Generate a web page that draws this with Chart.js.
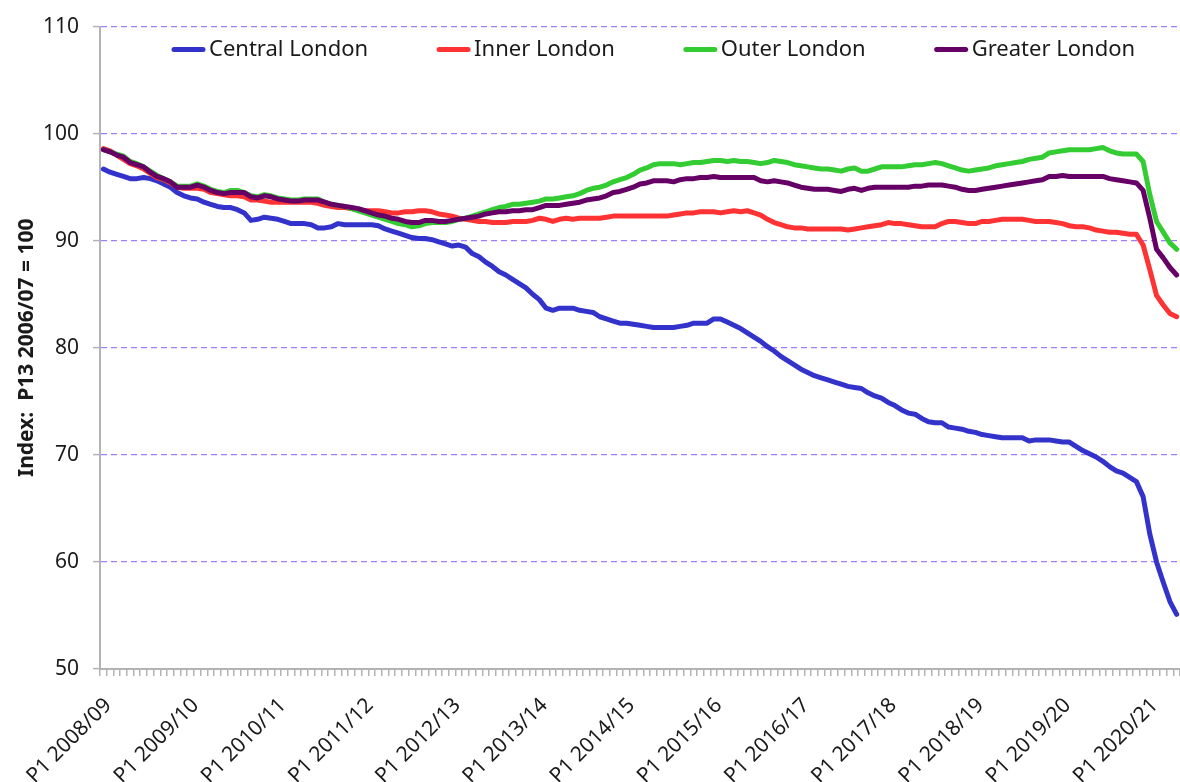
<!DOCTYPE html>
<html>
<head>
<meta charset="utf-8">
<title>London index</title>
<script src="https://cdn.jsdelivr.net/npm/chart.js@4.4.0/dist/chart.umd.min.js"></script>
<style>
  html, body { margin: 0; padding: 0; background: #fff; overflow: hidden; }
  #wrap { width: 1180px; height: 782px; position: relative; }
</style>
</head>
<body>
<div id="wrap"><canvas id="london-chart"></canvas></div>
<script>
// 13 four-week periods per financial year, P1 2008/09 .. P5 2020/21
const years = ["2008/09", "2009/10", "2010/11", "2011/12", "2012/13", "2013/14", "2014/15",
  "2015/16", "2016/17", "2017/18", "2018/19", "2019/20", "2020/21"]
const periodsPerYear = 13
const lastPeriods = 5

const categories = []
years.forEach((yr, yi) => {
  const n = yi === years.length - 1 ? lastPeriods : periodsPerYear
  for (let p = 1; p <= n; p++) categories.push(`P${p} ${yr}`)
})

const yTicks = [50, 60, 70, 80, 90, 100, 110]

const centralLondon = [
  96.7, 96.4, 96.2, 96.0, 95.8, 95.8, 95.9, 95.8, 95.6, 95.3,
  95.0, 94.5, 94.2, 94.0, 93.9, 93.6, 93.4, 93.2, 93.1, 93.1,
  92.9, 92.6, 91.9, 92.0, 92.2, 92.1, 92.0, 91.8, 91.6, 91.6,
  91.6, 91.5, 91.2, 91.2, 91.3, 91.6, 91.5, 91.5, 91.5, 91.5,
  91.5, 91.4, 91.1, 90.9, 90.7, 90.5, 90.3, 90.2, 90.2, 90.1,
  89.9, 89.7, 89.5, 89.6, 89.4, 88.8, 88.5, 88.0, 87.6, 87.1,
  86.8, 86.4, 86.0, 85.6, 85.0, 84.5, 83.7, 83.5, 83.7, 83.7,
  83.7, 83.5, 83.4, 83.3, 82.9, 82.7, 82.5, 82.3, 82.3, 82.2,
  82.1, 82.0, 81.9, 81.9, 81.9, 81.9, 82.0, 82.1, 82.3, 82.3,
  82.3, 82.7, 82.7, 82.4, 82.1, 81.8, 81.4, 81.0, 80.6, 80.1,
  79.7, 79.2, 78.8, 78.4, 78.0, 77.7, 77.4, 77.2, 77.0, 76.8,
  76.6, 76.4, 76.3, 76.2, 75.8, 75.5, 75.3, 74.9, 74.6, 74.2,
  73.9, 73.8, 73.4, 73.1, 73.0, 73.0, 72.6, 72.5, 72.4, 72.2,
  72.1, 71.9, 71.8, 71.7, 71.6, 71.6, 71.6, 71.6, 71.3, 71.4,
  71.4, 71.4, 71.3, 71.2, 71.2, 70.8, 70.4, 70.1, 69.8, 69.4,
  68.9, 68.5, 68.3, 67.9, 67.5, 66.1, 62.6, 60.0, 58.1, 56.3,
  55.1
]

const innerLondon = [
  98.6, 98.4, 98.0, 97.6, 97.2, 97.0, 96.7, 96.3, 95.9, 95.7,
  95.4, 95.0, 94.9, 94.9, 94.9, 94.8, 94.5, 94.4, 94.3, 94.2,
  94.2, 94.1, 93.8, 93.8, 93.7, 93.6, 93.6, 93.6, 93.6, 93.6,
  93.6, 93.6, 93.5, 93.3, 93.2, 93.1, 93.1, 93.0, 92.9, 92.8,
  92.8, 92.8, 92.7, 92.6, 92.6, 92.7, 92.7, 92.8, 92.8, 92.7,
  92.5, 92.4, 92.3, 92.1, 92.0, 91.9, 91.8, 91.8, 91.7, 91.7,
  91.7, 91.8, 91.8, 91.8, 91.9, 92.1, 92.0, 91.8, 92.0, 92.1,
  92.0, 92.1, 92.1, 92.1, 92.1, 92.2, 92.3, 92.3, 92.3, 92.3,
  92.3, 92.3, 92.3, 92.3, 92.3, 92.4, 92.5, 92.6, 92.6, 92.7,
  92.7, 92.7, 92.6, 92.7, 92.8, 92.7, 92.8, 92.6, 92.4, 92.0,
  91.7, 91.5, 91.3, 91.2, 91.2, 91.1, 91.1, 91.1, 91.1, 91.1,
  91.1, 91.0, 91.1, 91.2, 91.3, 91.4, 91.5, 91.7, 91.6, 91.6,
  91.5, 91.4, 91.3, 91.3, 91.3, 91.6, 91.8, 91.8, 91.7, 91.6,
  91.6, 91.8, 91.8, 91.9, 92.0, 92.0, 92.0, 92.0, 91.9, 91.8,
  91.8, 91.8, 91.7, 91.6, 91.4, 91.3, 91.3, 91.2, 91.0, 90.9,
  90.8, 90.8, 90.7, 90.6, 90.6, 89.6, 87.3, 84.9, 84.0, 83.2,
  82.9
]

const outerLondon = [
  98.5, 98.3, 98.1, 97.9, 97.4, 97.2, 96.9, 96.5, 96.1, 95.8,
  95.5, 95.1, 95.1, 95.1, 95.3, 95.1, 94.8, 94.6, 94.5, 94.7,
  94.7, 94.5, 94.2, 94.1, 94.3, 94.2, 94.0, 93.9, 93.8, 93.8,
  93.9, 93.9, 93.9, 93.6, 93.4, 93.3, 93.2, 93.0, 92.8, 92.6,
  92.4, 92.2, 92.0, 91.8, 91.6, 91.5, 91.3, 91.4, 91.6, 91.7,
  91.7, 91.7, 91.8, 92.0, 92.1, 92.3, 92.5, 92.7, 92.9, 93.1,
  93.2, 93.4, 93.4, 93.5, 93.6, 93.7, 93.9, 93.9, 94.0, 94.1,
  94.2, 94.4, 94.7, 94.9, 95.0, 95.2, 95.5, 95.7, 95.9, 96.2,
  96.6, 96.8, 97.1, 97.2, 97.2, 97.2, 97.1, 97.2, 97.3, 97.3,
  97.4, 97.5, 97.5, 97.4, 97.5, 97.4, 97.4, 97.3, 97.2, 97.3,
  97.5, 97.4, 97.3, 97.1, 97.0, 96.9, 96.8, 96.7, 96.7, 96.6,
  96.5, 96.7, 96.8, 96.5, 96.5, 96.7, 96.9, 96.9, 96.9, 96.9,
  97.0, 97.1, 97.1, 97.2, 97.3, 97.2, 97.0, 96.8, 96.6, 96.5,
  96.6, 96.7, 96.8, 97.0, 97.1, 97.2, 97.3, 97.4, 97.6, 97.7,
  97.8, 98.2, 98.3, 98.4, 98.5, 98.5, 98.5, 98.5, 98.6, 98.7,
  98.4, 98.2, 98.1, 98.1, 98.1, 97.4, 94.3, 91.8, 90.8, 89.8,
  89.2
]

const greaterLondon = [
  98.5, 98.3, 98.0, 97.8, 97.3, 97.1, 96.9, 96.4, 96.0, 95.8,
  95.5, 95.0, 95.0, 95.0, 95.2, 95.0, 94.7, 94.5, 94.4, 94.5,
  94.5, 94.5, 94.1, 94.0, 94.2, 94.1, 93.9, 93.8, 93.7, 93.7,
  93.8, 93.8, 93.8, 93.6, 93.4, 93.3, 93.2, 93.1, 93.0, 92.8,
  92.6, 92.4, 92.3, 92.1, 92.0, 91.8, 91.7, 91.7, 91.9, 91.9,
  91.8, 91.8, 91.9, 92.0, 92.1, 92.2, 92.3, 92.5, 92.6, 92.7,
  92.7, 92.8, 92.8, 92.9, 92.9, 93.1, 93.3, 93.3, 93.3, 93.4,
  93.5, 93.6, 93.8, 93.9, 94.0, 94.2, 94.5, 94.6, 94.8, 95.0,
  95.3, 95.4, 95.6, 95.6, 95.6, 95.5, 95.7, 95.8, 95.8, 95.9,
  95.9, 96.0, 95.9, 95.9, 95.9, 95.9, 95.9, 95.9, 95.6, 95.5,
  95.6, 95.5, 95.4, 95.2, 95.0, 94.9, 94.8, 94.8, 94.8, 94.7,
  94.6, 94.8, 94.9, 94.7, 94.9, 95.0, 95.0, 95.0, 95.0, 95.0,
  95.0, 95.1, 95.1, 95.2, 95.2, 95.2, 95.1, 95.0, 94.8, 94.7,
  94.7, 94.8, 94.9, 95.0, 95.1, 95.2, 95.3, 95.4, 95.5, 95.6,
  95.7, 96.0, 96.0, 96.1, 96.0, 96.0, 96.0, 96.0, 96.0, 96.0,
  95.8, 95.7, 95.6, 95.5, 95.4, 94.7, 92.1, 89.2, 88.4, 87.5,
  86.8
]

const textColor = "#1a1a1a"
const axisGrey = "#b3b3b3"
const fontFamily = "'Noto Sans', sans-serif"

function lineSet(label, data, color, order) {
  return {
    label: label,
    data: data,
    borderColor: color,
    backgroundColor: color,
    borderWidth: 5,
    pointRadius: 0,
    pointHoverRadius: 0,
    tension: 0,
    borderJoinStyle: "round",
    borderCapStyle: "round",
    order: order
  }
}

// one-row legend drawn inside the plot, like the spreadsheet original
const inlineLegend = {
  id: "inlineLegend",
  afterDraw(chart) {
    const ctx = chart.ctx
    const area = chart.chartArea
    const y = area.top + 23
    let x = area.left + 72
    ctx.save()
    ctx.font = `22px ${fontFamily}`
    ctx.textBaseline = "middle"
    ctx.textAlign = "left"
    chart.data.datasets.forEach(ds => {
      ctx.strokeStyle = ds.borderColor
      ctx.lineWidth = 5
      ctx.lineCap = "round"
      ctx.beginPath()
      ctx.moveTo(x + 2, y)
      ctx.lineTo(x + 31, y)
      ctx.stroke()
      ctx.fillStyle = textColor
      ctx.fillText(ds.label, x + 37, y)
      x += 37 + ctx.measureText(ds.label).width + 69
    })
    ctx.restore()
  }
}

new Chart("london-chart", {
  type: "line",
  data: {
    labels: categories,
    datasets: [
      lineSet("Central London", centralLondon, "#3333cc", 3),
      lineSet("Inner London", innerLondon, "#ff3333", 2),
      lineSet("Outer London", outerLondon, "#33cc33", 1),
      lineSet("Greater London", greaterLondon, "#660066", 0)
    ]
  },
  options: {
    responsive: true,
    maintainAspectRatio: false,
    animation: false,
    layout: { padding: { top: 24, right: 0, bottom: 0, left: 0 } },
    plugins: {
      tooltip: { enabled: false },
      legend: { display: false }
    },
    scales: {
      x: {
        type: "category",
        offset: true,
        grid: {
          offset: true,
          drawOnChartArea: false,
          drawTicks: true,
          tickLength: 7,
          color: axisGrey,
          lineWidth: 1.5
        },
        border: { color: axisGrey, width: 2 },
        ticks: {
          autoSkip: false,
          minRotation: 45,
          maxRotation: 45,
          padding: 17,
          labelOffset: 5,
          color: textColor,
          font: { family: fontFamily, size: 21 },
          callback: (val, idx) => idx % periodsPerYear === 0 ? categories[idx] : ""
        },
        afterFit(scale) {
          scale.height = 113
          scale.paddingRight = 0
          scale.paddingLeft = 0
        }
      },
      y: {
        min: yTicks[0],
        max: yTicks[yTicks.length - 1],
        afterBuildTicks(scale) {
          scale.ticks = yTicks.map(v => ({ value: v }))
        },
        grid: {
          color: "#9f7fff",
          lineWidth: 1.2,
          tickColor: axisGrey,
          tickLength: 7,
          tickWidth: 1.5
        },
        border: { color: axisGrey, width: 2, dash: [6, 4] },
        ticks: {
          padding: 14,
          color: textColor,
          font: { family: fontFamily, size: 21 }
        },
        title: {
          display: true,
          text: "Index:  P13 2006/07 = 100",
          color: textColor,
          font: { family: fontFamily, size: 21, weight: "bold" },
          padding: { top: 14, bottom: 0 }
        },
        afterFit(scale) {
          scale.width = 100
        }
      }
    }
  },
  plugins: [inlineLegend]
})
</script>
</body>
</html>
